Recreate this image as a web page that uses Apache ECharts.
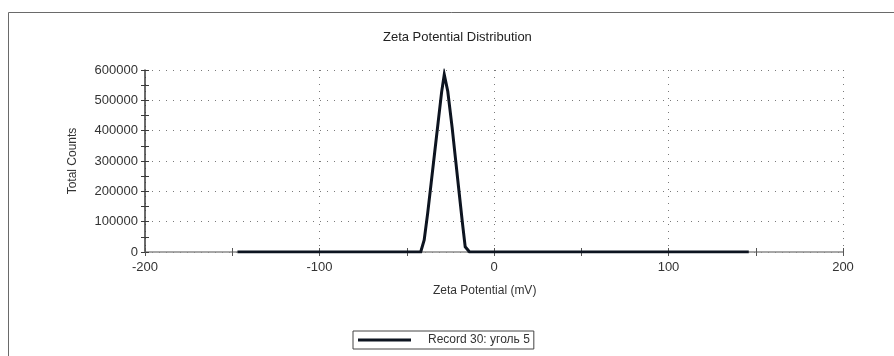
<!DOCTYPE html>
<html>
<head>
<meta charset="utf-8">
<title>Zeta Potential Distribution</title>
<script src="https://cdn.jsdelivr.net/npm/echarts@6/dist/echarts.min.js"></script>
<style>
  html, body { margin: 0; padding: 0; background: #ffffff; }
  #chart { width: 894px; height: 356px; }
</style>
</head>
<body>
<div id="chart"></div>
<script>
// Zeta potential (mV) and total counts for the measured record
const zetaMv = [-147, -42, -40, -38, -36, -34, -32, -30, -28.5, -26.5, -24, -22, -20, -18, -16.5, -14, 146];
const totalCounts = [0, 0, 40000, 128000, 228000, 328000, 428000, 528000, 585000, 530000, 411000, 304000, 197000, 91000, 17000, 0, 0];

const chartTitle = 'Zeta Potential Distribution';
const xAxisName = 'Zeta Potential (mV)';
const yAxisName = 'Total Counts';
const seriesName = 'Record 30: уголь 5';

const xRange = { min: -200, max: 200, interval: 100 };
const yRange = { min: 0, max: 600000, interval: 100000 };

const points = zetaMv.map((x, i) => [x, totalCounts[i]]);

const FONT = 'Liberation Sans, Arial, sans-serif';
const TEXT = '#333333';
const GRID_DOTS = { color: '#7a7a7a', width: 1, type: [1, 6] };
const plainNumber = (v) => String(v);

const chart = echarts.init(document.getElementById('chart'), null, { renderer: 'canvas' });

chart.setOption({
  backgroundColor: '#ffffff',
  animation: false,
  textStyle: { fontFamily: FONT },
  title: {
    text: chartTitle,
    left: 378,
    top: 26,
    textStyle: { fontFamily: FONT, fontSize: 13, fontWeight: 'normal', color: '#222222' }
  },
  legend: {
    data: [seriesName],
    left: 353,
    top: 331,
    orient: 'horizontal',
    icon: 'rect',
    itemWidth: 53,
    itemHeight: 3,
    padding: [3, 4, 3, 5],
    borderColor: '#444444',
    borderWidth: 1,
    backgroundColor: '#ffffff',
    itemStyle: { color: '#0d1420' },
    textStyle: { fontFamily: FONT, fontSize: 12, color: TEXT, padding: [0, 0, 0, 12] }
  },
  grid: { left: 145, right: 51, top: 70, bottom: 104, containLabel: false },
  xAxis: [
    {
      type: 'value',
      min: xRange.min, max: xRange.max, interval: xRange.interval,
      axisLine: { show: true, onZero: false, lineStyle: { color: '#8a8a8a', width: 1.5 } },
      axisTick: { show: true, length: 4, lineStyle: { color: '#555555' } },
      minorTick: { show: true, splitNumber: 2, length: 4, lineStyle: { color: '#555555' } },
      splitLine: { show: true, lineStyle: GRID_DOTS },
      axisLabel: { fontFamily: FONT, fontSize: 13, color: TEXT, margin: 9, formatter: plainNumber }
    },
    {
      // inner half of the crossing tick marks
      type: 'value', position: 'bottom',
      min: xRange.min, max: xRange.max, interval: xRange.interval,
      axisLine: { show: false, onZero: false },
      axisTick: { show: true, inside: true, length: 4, lineStyle: { color: '#555555' } },
      minorTick: { show: true, splitNumber: 2, length: 4, lineStyle: { color: '#555555' } },
      splitLine: { show: false },
      axisLabel: { show: false }
    }
  ],
  yAxis: [
    {
      type: 'value',
      min: yRange.min, max: yRange.max, interval: yRange.interval,
      axisLine: { show: true, onZero: false, lineStyle: { color: '#3a3a3a', width: 1.5 } },
      axisTick: { show: true, length: 4, lineStyle: { color: '#3a3a3a' } },
      minorTick: { show: true, splitNumber: 2, length: 4, lineStyle: { color: '#3a3a3a' } },
      splitLine: { show: true, lineStyle: GRID_DOTS },
      axisLabel: { fontFamily: FONT, fontSize: 13, color: TEXT, margin: 7, formatter: plainNumber },
      name: yAxisName,
      nameLocation: 'middle',
      nameRotate: 90,
      nameGap: 66,
      nameTextStyle: { fontFamily: FONT, fontSize: 12, color: TEXT }
    },
    {
      // inner half of the crossing tick marks
      type: 'value', position: 'left',
      min: yRange.min, max: yRange.max, interval: yRange.interval,
      axisLine: { show: false, onZero: false },
      axisTick: { show: true, inside: true, length: 4, lineStyle: { color: '#3a3a3a' } },
      minorTick: { show: true, splitNumber: 2, length: 4, lineStyle: { color: '#3a3a3a' } },
      splitLine: { show: false },
      axisLabel: { show: false }
    }
  ],
  graphic: [
    // outer frame: left and top edges
    { type: 'line', shape: { x1: 8.5, y1: 12.5, x2: 8.5, y2: 356 }, style: { stroke: '#6a6a6a', lineWidth: 1 }, silent: true },
    { type: 'line', shape: { x1: 8.5, y1: 12.5, x2: 894, y2: 12.5 }, style: { stroke: '#6a6a6a', lineWidth: 1 }, silent: true },
    {
      type: 'text', left: 433, top: 285, silent: true,
      style: { text: xAxisName, font: '12px ' + FONT, fill: TEXT }
    }
  ],
  series: [
    {
      name: seriesName,
      type: 'line',
      xAxisIndex: 0,
      yAxisIndex: 0,
      data: points,
      showSymbol: false,
      symbol: 'none',
      lineStyle: { color: '#0d1420', width: 3, join: 'miter' },
      itemStyle: { color: '#0d1420' },
      z: 5
    }
  ]
});
</script>
</body>
</html>
